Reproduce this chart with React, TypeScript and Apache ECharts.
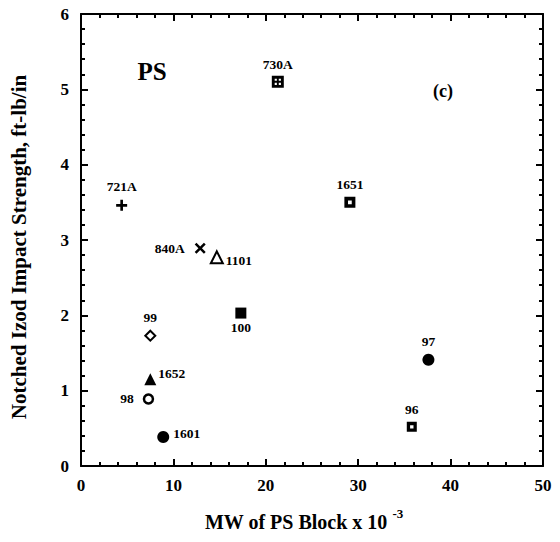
import React, { useEffect, useRef } from "react";
import * as echarts from "echarts";

// Sample names, PS block MW (x10^-3) and notched Izod impact strength (ft-lb/in)
const samples = ["730A", "721A", "840A", "1101", "100", "99", "1652", "98", "1601", "97", "96", "1651"];
const mwValues = [21.3, 4.4, 12.9, 14.7, 17.3, 7.5, 7.5, 7.3, 8.9, 37.6, 35.8, 29.1];
const impactValues = [5.1, 3.46, 2.89, 2.77, 2.03, 1.73, 1.15, 0.89, 0.385, 1.41, 0.52, 3.5];
const xTickValues = [0, 10, 20, 30, 40, 50];
const yTickValues = [0, 1, 2, 3, 4, 5, 6];

const FONT = '"Liberation Serif", "Times New Roman", serif';

const PLUS = "path://M3.8,0H6.2V3.8H10V6.2H6.2V10H3.8V6.2H0V3.8H3.8Z";
const CROSS = "path://M0,1.6L1.6,0L5,3.4L8.4,0L10,1.6L6.6,5L10,8.4L8.4,10L5,6.6L1.6,10L0,8.4L3.4,5Z";
const GRID_SQ =
  "path://M0,0H10V10H0Z M2.4,2.4V4.2H4.2V2.4Z M5.8,2.4V4.2H7.6V2.4Z M2.4,5.8V7.6H4.2V5.8Z M5.8,5.8V7.6H7.6V5.8Z";
const HOLLOW_SQ = "path://M0,0H10V10H0Z M3.3,3.3V6.7H6.7V3.3Z";

type Sty = {
  symbol: string;
  size: number;
  fill: string;
  border?: number;
  pos: string;
  dist?: number;
  offset?: [number, number];
};

const styles: Record<string, Sty> = {
  "730A": { symbol: GRID_SQ, size: 12, fill: "#000", pos: "top", dist: 4 },
  "721A": { symbol: PLUS, size: 11, fill: "#000", pos: "top", dist: 6 },
  "840A": { symbol: CROSS, size: 11, fill: "#000", pos: "left", dist: 10 },
  "1101": { symbol: "triangle", size: 12, fill: "#fff", border: 2, pos: "right", dist: 2, offset: [0, 3] },
  "100": { symbol: "rect", size: 11, fill: "#000", pos: "bottom", dist: 2 },
  "99": { symbol: "diamond", size: 10, fill: "#fff", border: 2, pos: "top", dist: 5 },
  "1652": { symbol: "triangle", size: 12, fill: "#000", pos: "right", dist: 2, offset: [0, -6] },
  "98": { symbol: "circle", size: 9, fill: "#fff", border: 2.5, pos: "left", dist: 9 },
  "1601": { symbol: "circle", size: 12, fill: "#000", pos: "right", dist: 4, offset: [0, -3] },
  "97": { symbol: "circle", size: 12, fill: "#000", pos: "top", dist: 5 },
  "96": { symbol: HOLLOW_SQ, size: 10, fill: "#000", pos: "top", dist: 5 },
  "1651": { symbol: HOLLOW_SQ, size: 11, fill: "#000", pos: "top", dist: 5 },
};

const axisCommon = {
  type: "value" as const,
  axisLine: { show: true, onZero: false, lineStyle: { color: "#000", width: 2 } },
  axisTick: { show: true, inside: true, length: 7, lineStyle: { color: "#000", width: 2 } },
  minorTick: { show: true, splitNumber: 5, length: 4, lineStyle: { color: "#000", width: 2 } },
  splitLine: { show: false },
  minorSplitLine: { show: false },
};

export default function App() {
  const ref = useRef<HTMLDivElement>(null);
  useEffect(() => {
    if (!ref.current) return;
    const chart = echarts.init(ref.current, undefined, { renderer: "svg" });
    const xMin = xTickValues[0];
    const xMax = xTickValues[xTickValues.length - 1];
    const yMin = yTickValues[0];
    const yMax = yTickValues[yTickValues.length - 1];
    const labelStyle = { fontFamily: FONT, fontWeight: "bold" as const, fontSize: 17, color: "#000" };

    const series = samples.map((name, i) => {
      const s = styles[name];
      return {
        type: "scatter",
        name,
        data: [[mwValues[i], impactValues[i]]],
        symbol: s.symbol,
        symbolSize: s.size,
        itemStyle: {
          color: s.fill,
          borderColor: "#000",
          borderWidth: s.border ?? 0,
          opacity: 1,
        },
        label: {
          show: true,
          formatter: name,
          position: s.pos,
          distance: s.dist ?? 5,
          offset: s.offset ?? [0, 0],
          fontFamily: FONT,
          fontWeight: "bold",
          fontSize: 13.5,
          color: "#000",
        },
        emphasis: { disabled: true },
      };
    });

    chart.setOption({
      animation: false,
      backgroundColor: "#fff",
      grid: { left: 81, right: 17, top: 14, bottom: 76, containLabel: false },
      xAxis: [
        {
          ...axisCommon,
          position: "bottom",
          min: xMin,
          max: xMax,
          interval: 10,
          axisLabel: { ...labelStyle, margin: 11 },
        },
        {
          ...axisCommon,
          position: "top",
          min: xMin,
          max: xMax,
          interval: 10,
          axisLabel: { show: false },
        },
      ],
      yAxis: [
        {
          ...axisCommon,
          position: "left",
          min: yMin,
          max: yMax,
          interval: 1,
          axisLabel: { ...labelStyle, margin: 12 },
        },
        {
          ...axisCommon,
          position: "right",
          min: yMin,
          max: yMax,
          interval: 1,
          axisLabel: { show: false },
        },
      ],
      series,
      graphic: [
        {
          type: "text",
          x: 152,
          y: 71,
          style: {
            text: "PS",
            font: `bold 25px ${FONT}`,
            fill: "#000",
            align: "center",
            verticalAlign: "middle",
          },
        },
        {
          type: "text",
          x: 443,
          y: 91,
          style: {
            text: "(c)",
            font: `bold 18px ${FONT}`,
            fill: "#000",
            align: "center",
            verticalAlign: "middle",
          },
        },
        {
          type: "text",
          x: 19,
          y: 247,
          rotation: Math.PI / 2,
          style: {
            text: "Notched Izod Impact Strength, ft-lb/in",
            font: `bold 21px ${FONT}`,
            fill: "#000",
            align: "center",
            verticalAlign: "middle",
          },
        },
        {
          type: "text",
          x: 304,
          y: 519,
          style: {
            text: "{a|MW of PS Block x 10 }{s|-3}",
            align: "center",
            verticalAlign: "middle",
            rich: {
              a: { font: `bold 20px ${FONT}`, fill: "#000", verticalAlign: "bottom" },
              s: { font: `bold 13px ${FONT}`, fill: "#000", verticalAlign: "top", padding: [0, 0, 12, 0] },
            },
          },
        },
      ],
    });
    return () => chart.dispose();
  }, []);
  return <div ref={ref} style={{ width: 560, height: 542, position: "absolute", left: 0, top: 0 }} />;
}
